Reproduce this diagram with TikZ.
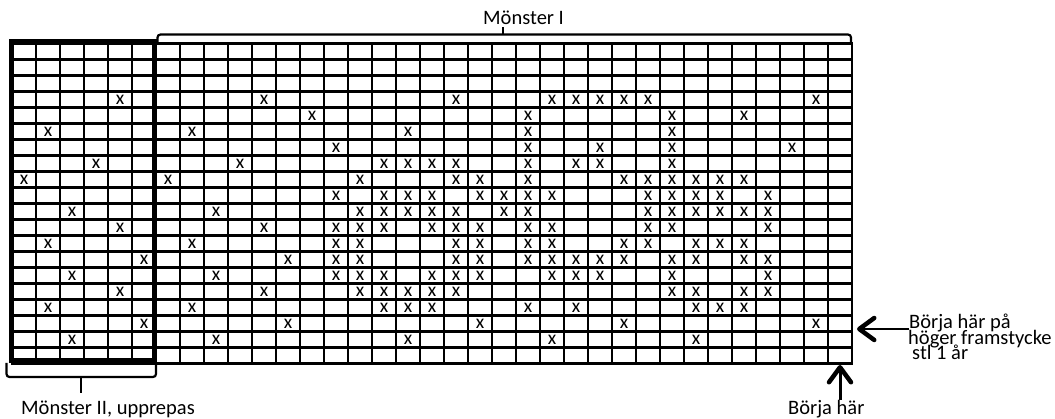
\documentclass[tikz,border=0pt]{standalone}
\usepackage{fontspec}
\setmainfont{Carlito}
\usetikzlibrary{arrows.meta}
\begin{document}
\begin{tikzpicture}[x=1pt,y=-1pt,
  gridline/.style={line width=2.3pt, line cap=rect},
  xmark/.style={inner sep=0pt, font=\fontsize{19.5}{19.5}\selectfont},
  lbl/.style={inner sep=0pt, anchor=base west, font=\fontsize{20.5}{20.5}\selectfont},
  bracket/.style={line width=2.2pt, rounded corners=3pt},
  thickbox/.style={line width=5pt},
  barbtip/.style={-{Straight Barb[length=15pt,width=22pt,line width=4.5pt,round]}}
]
\useasboundingbox (0,0) rectangle (1055,419);
\fill[white] (0,0) rectangle (1055,419);

% grid
\foreach \i in {0,...,35} \draw[gridline] ({12+24*\i},43.5) -- ({12+24*\i},363.5);
\foreach \j in {0,...,20} \draw[gridline] (12,{43.5+16*\j}) -- (852,{43.5+16*\j});

% thick box round Moenster II
\draw[thickbox] (11.8,41.5) rectangle (154.2,361);

% x marks
\foreach \r/\cols in {
  4/{5,11,19,23,24,25,26,27,34},
  5/{13,22,28,31},
  6/{2,8,17,22,28},
  7/{14,22,25,28,33},
  8/{4,10,16,17,18,19,22,24,25,28},
  9/{1,7,15,19,20,22,26,27,28,29,30,31},
  10/{14,16,17,18,20,21,22,23,27,28,29,30,32},
  11/{3,9,15,16,17,18,19,21,22,27,28,29,30,31,32},
  12/{5,11,14,15,16,18,19,20,22,23,27,28,32},
  13/{2,8,14,15,19,20,22,23,26,27,29,30,31},
  14/{6,12,14,15,19,20,22,23,24,25,26,28,29,31,32},
  15/{3,9,14,15,16,18,19,20,23,24,25,28,32},
  16/{5,11,15,16,17,18,19,28,29,31,32},
  17/{2,8,16,17,18,22,24,29,30,31},
  18/{6,12,20,26,34},
  19/{3,9,17,23,29}}{
  \foreach \c in \cols {
    \node[xmark] (x\r-\c) at ({24*\c},{43.5+16*\r-8}) {x};
  }
}

% braces
\draw[bracket] (157.5,42) -- (157.5,34.5) -- (851,34.5) -- (851,42);
\draw[line width=2.2pt] (503,34.5) -- (503,27);
\draw[bracket] (6.5,363) -- (6.5,377) -- (156,377) -- (156,363);
\draw[line width=2.2pt] (81,377) -- (81,393);

% labels
\node[lbl] (m1) at (483,25) {Mönster I};
\node[lbl] (m2) at (21,415) {Mönster II, upprepas};
\node[lbl] (s1) at (909,329) {Börja här på};
\node[lbl] (s2) at (908,344.5) {höger framstycke};
\node[lbl] (s3) at (912,360) {stl 1 år};
\node[lbl] (s4) at (788,414) {Börja här};

% arrows
\coordinate (tipR) at (857,329);
\coordinate (tipB) at (840,365);
\draw[line width=1.8pt, barbtip] (s1.base west) -- (tipR);
\draw[line width=3pt, barbtip] (tipB |- s4.north) -- (tipB);
\end{tikzpicture}
\end{document}
